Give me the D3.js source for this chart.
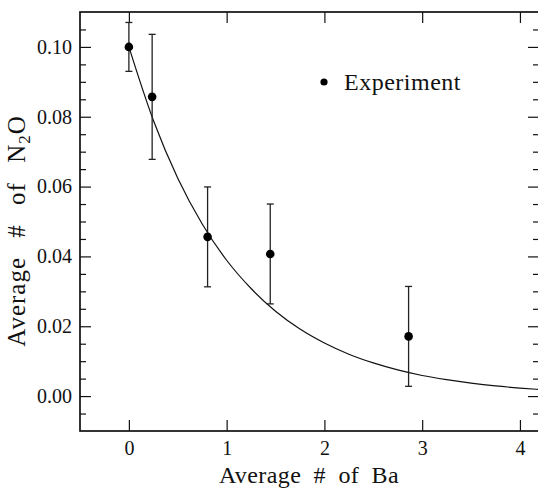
<!DOCTYPE html>
<html>
<head>
<meta charset="utf-8">
<script src="https://cdn.jsdelivr.net/npm/d3@7"></script>
<style>
  html, body { margin: 0; padding: 0; background: #fff; }
  svg { display: block; }
</style>
</head>
<body>
<svg id="chart" width="538" height="488"></svg>
<script>
// Measured N2O per Ba (experiment) with symmetric uncertainties
const baAvg   = [0.0, 0.238, 0.805, 1.446, 2.861];
const n2oAvg  = [0.100, 0.0857, 0.0456, 0.0407, 0.0171];
const n2oErr  = [0.0070, 0.0179, 0.0143, 0.0143, 0.0143];

// Exponential-decay fit curve, sampled along the Ba axis
const fitBa  = [0.0, 0.25, 0.5, 0.75, 1.0, 1.25, 1.5, 1.75, 2.0, 2.25, 2.5, 2.75, 3.0, 3.25, 3.5, 3.75, 4.0, 4.2];
const fitN2o = [0.100, 0.0790, 0.0624, 0.0493, 0.0389, 0.0308, 0.0243, 0.0192, 0.0152, 0.0120, 0.0095, 0.0075, 0.0059, 0.0047, 0.0037, 0.0029, 0.0023, 0.0019];

// Tick positions
const xTicks = [0, 1, 2, 3, 4];
const yTicks = [0.00, 0.02, 0.04, 0.06, 0.08, 0.10];
const yMinorTicks = [-0.005, 0.005, 0.01, 0.015, 0.025, 0.03, 0.035, 0.045, 0.05, 0.055, 0.065, 0.07, 0.075, 0.085, 0.09, 0.095, 0.105];

const legendLabel = "Experiment";

const FONT = '"Liberation Serif"';
const svg = d3.select("#chart").style("font-family", FONT);
const plotL = 80, plotR = 539, plotT = 12, plotB = 431;

const x = d3.scaleLinear().domain([-0.5, 4.195]).range([plotL, plotR]);
const y = d3.scaleLinear().domain([-0.01, 0.11]).range([plotB, plotT]);

const ink = "#111";

// Axes: ticks drawn inward on all four sides
function styleAxis(g) {
  g.attr("font-family", null).attr("font-size", null);
  g.select(".domain").remove();
  g.selectAll(".tick line").attr("stroke", ink).attr("stroke-width", 1.2);
  g.selectAll(".tick text").attr("fill", ink)
    .style("font-family", FONT).style("font-size", "20px");
}

svg.append("g").attr("transform", `translate(${plotL},0)`)
  .call(d3.axisLeft(y).tickValues(yTicks).tickSize(-11).tickPadding(8).tickFormat(d3.format(".2f")))
  .call(styleAxis);
svg.append("g").attr("transform", `translate(${plotL},0)`)
  .call(d3.axisLeft(y).tickValues(yMinorTicks).tickSize(-6).tickFormat(""))
  .call(styleAxis);
svg.append("g").attr("transform", `translate(${plotR},0)`)
  .call(d3.axisRight(y).tickValues(yTicks).tickSize(-11).tickFormat(""))
  .call(styleAxis);
svg.append("g").attr("transform", `translate(${plotR},0)`)
  .call(d3.axisRight(y).tickValues(yMinorTicks).tickSize(-6).tickFormat(""))
  .call(styleAxis);
svg.append("g").attr("transform", `translate(0,${plotB})`)
  .call(d3.axisBottom(x).tickValues(xTicks).tickSize(-11).tickPadding(10).tickFormat(d3.format("d")))
  .call(styleAxis);
svg.append("g").attr("transform", `translate(0,${plotT})`)
  .call(d3.axisTop(x).tickValues(xTicks).tickSize(-11).tickFormat(""))
  .call(styleAxis);

// Frame
svg.append("rect")
  .attr("x", plotL).attr("y", plotT)
  .attr("width", plotR - plotL).attr("height", plotB - plotT)
  .attr("fill", "none").attr("stroke", ink).attr("stroke-width", 1.7);

// Fit curve
const fitData = fitBa.map((v, i) => [v, fitN2o[i]]);
svg.append("path")
  .datum(fitData)
  .attr("fill", "none").attr("stroke", ink).attr("stroke-width", 1.2)
  .attr("d", d3.line().x(d => x(d[0])).y(d => y(d[1])).curve(d3.curveMonotoneX));

// Error bars and points
const pts = baAvg.map((v, i) => ({ x: v, y: n2oAvg[i], e: n2oErr[i] }));
const eb = svg.append("g").attr("stroke", "#222").attr("stroke-width", 1.3);
eb.selectAll("line.bar").data(pts).join("line").attr("class", "bar")
  .attr("x1", d => x(d.x)).attr("x2", d => x(d.x))
  .attr("y1", d => y(d.y + d.e)).attr("y2", d => y(d.y - d.e));
eb.selectAll("line.capT").data(pts).join("line").attr("class", "capT")
  .attr("x1", d => x(d.x) - 3.5).attr("x2", d => x(d.x) + 3.5)
  .attr("y1", d => y(d.y + d.e)).attr("y2", d => y(d.y + d.e));
eb.selectAll("line.capB").data(pts).join("line").attr("class", "capB")
  .attr("x1", d => x(d.x) - 3.5).attr("x2", d => x(d.x) + 3.5)
  .attr("y1", d => y(d.y - d.e)).attr("y2", d => y(d.y - d.e));
svg.append("g").selectAll("circle").data(pts).join("circle")
  .attr("cx", d => x(d.x)).attr("cy", d => y(d.y)).attr("r", 4.3).attr("fill", "#000");

// Legend
svg.append("circle").attr("cx", 324).attr("cy", 82).attr("r", 3.6).attr("fill", "#000");
svg.append("text").attr("x", 344).attr("y", 89.5).attr("fill", ink)
  .style("font-family", FONT).style("font-size", "24px").style("letter-spacing", "0.5px")
  .text(legendLabel);

// Axis titles
svg.append("text")
  .attr("x", (plotL + 538) / 2).attr("y", 483).attr("fill", ink)
  .attr("text-anchor", "middle")
  .style("font-family", FONT).style("font-size", "24px")
  .style("letter-spacing", "0.4px").style("word-spacing", "6px")
  .text("Average # of Ba");

const yt = svg.append("text")
  .attr("transform", "translate(25,231) rotate(-90)").attr("fill", ink)
  .attr("text-anchor", "middle")
  .style("font-family", FONT).style("font-size", "25px")
  .style("letter-spacing", "1px").style("word-spacing", "12px");
yt.append("tspan").text("Average # of N");
yt.append("tspan").attr("dy", 5).style("font-size", "17px").text("2");
yt.append("tspan").attr("dy", -5).text("O");
</script>
</body>
</html>
